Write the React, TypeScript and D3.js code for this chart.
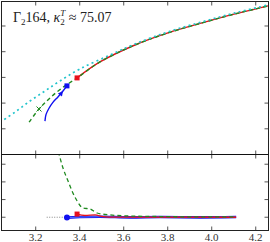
import React from 'react';
import * as d3 from 'd3';

// x ticks shared by both panels
const xTicks = [3.2, 3.4, 3.6, 3.8, 4.0, 4.2];
const xTickLabels = ['3.2', '3.4', '3.6', '3.8', '4.0', '4.2'];
const topTicks = [1, 2, 3, 4, 5];
const lowTicks = [0, 1, 2, 3];

// upper panel series
const redX = [3.388, 3.492, 3.651, 3.801, 3.956, 4.106, 4.256, 4.30];
const redY = [2.98, 3.60, 4.26, 4.73, 5.12, 5.47, 5.78, 5.88];
const greenX = [3.170, 3.215, 3.265, 3.320, 3.388, 3.492, 3.651, 3.801, 3.956, 4.106, 4.256, 4.30];
const greenY = [1.26, 1.77, 2.20, 2.59, 2.98, 3.60, 4.26, 4.73, 5.12, 5.47, 5.78, 5.88];
const cyanX = [3.038, 3.106, 3.174, 3.242, 3.310, 3.401, 3.538, 3.651, 3.801, 3.956, 4.106, 4.256, 4.30];
const cyanY = [1.25, 1.65, 2.08, 2.47, 2.86, 3.33, 3.87, 4.30, 4.77, 5.16, 5.51, 5.82, 5.93];
const blueX = [3.242, 3.247, 3.261, 3.279, 3.301, 3.324, 3.342];
const blueY = [1.30, 1.56, 1.81, 2.04, 2.24, 2.47, 2.67];
const crossX = 3.215;
const crossY = 1.77;

// lower panel series
const lowGreenX = [3.295, 3.301, 3.324, 3.347, 3.365, 3.388, 3.415, 3.447, 3.479, 3.538, 3.629, 3.765, 3.947, 4.111];
const lowGreenY = [4.1, 3.81, 2.79, 2.05, 1.49, 0.92, 0.52, 0.47, 0.24, 0.13, 0.07, 0.04, 0.02, 0.02];
const lowBlueX = [3.342, 3.401, 3.492, 3.629, 3.765, 3.947, 4.111];
const lowBlueY = [-0.02, 0.01, 0.03, -0.01, 0.01, -0.01, 0.01];
const lowRedX = [3.388, 3.424, 3.470, 3.506, 3.561, 4.111];
const lowRedY = [0.18, 0.10, 0.13, 0.04, 0.01, 0.0];
const refLineX = [3.25, 4.111];

const L = 1.5, R = 268.5, T = 1.5, M = 154.5, B = 230.5;

const x = d3.scaleLinear().domain([3.0445, 4.258]).range([L, R]);
const yTop = d3.scaleLinear().domain([0, 5.953]).range([M, T]);
const yLow = d3.scaleLinear().domain([-0.75, 3.55]).range([B, M]);

const zip = (xs: number[], ys: number[]) => xs.map((v, i) => [v, ys[i]] as [number, number]);

export default function App() {
  const lineTop = d3.line<[number, number]>().x(d => x(d[0])).y(d => yTop(d[1])).curve(d3.curveCatmullRom);
  const lineLow = d3.line<[number, number]>().x(d => x(d[0])).y(d => yLow(d[1])).curve(d3.curveMonotoneX);

  const blue = zip(blueX, blueY);
  const bEnd = blue[blue.length - 1];
  const redStart = [redX[0], redY[0]];

  // arrow head on the blue branch
  const ax = x(blueX[5]), ay = yTop(blueY[5]);
  const ang = Math.atan2(yTop(blueY[6]) - ay, x(blueX[6]) - ax);
  const arrowPts = [[0, 0], [-5, -2.6], [-5, 2.6]]
    .map(([px, py]) => [ax + px * Math.cos(ang) - py * Math.sin(ang), ay + px * Math.sin(ang) + py * Math.cos(ang)].join(','))
    .join(' ');

  const cx = x(crossX), cy = yTop(crossY);
  const tick = '#555';
  const serif = "'Liberation Serif', 'DejaVu Serif', serif";

  return (
    <svg width={270} height={242} style={{ position: 'absolute', left: 0, top: 0, background: '#fff' }}>
      <defs>
        <clipPath id="ctop"><rect x={L} y={T} width={R - L} height={M - T} /></clipPath>
        <clipPath id="clow"><rect x={L} y={M} width={R - L} height={B - M} /></clipPath>
      </defs>

      <g clipPath="url(#ctop)">
        <path d={lineTop(zip(redX, redY)) || ''} fill="none" stroke="#e8101c" strokeWidth={1.4} />
        <path d={lineTop(zip(greenX, greenY)) || ''} fill="none" stroke="#1f8a1f" strokeWidth={1.4} strokeDasharray="4,3" />
        <path d={lineTop(zip(cyanX, cyanY)) || ''} fill="none" stroke="#22c4cc" strokeWidth={1.7} strokeDasharray="2,3.2" />
        <path d={lineTop(blue) || ''} fill="none" stroke="#1010f0" strokeWidth={1.4} />
        <polygon points={arrowPts} fill="#1010f0" />
        <path d={`M${cx - 2.5},${cy - 2.5}L${cx + 2.5},${cy + 2.5}M${cx - 2.5},${cy + 2.5}L${cx + 2.5},${cy - 2.5}`} stroke="#1f8a1f" strokeWidth={1} />
        <rect x={x(bEnd[0]) - 2.5} y={yTop(bEnd[1]) - 2.5} width={5} height={5} fill="#1010f0" />
        <rect x={x(redStart[0]) - 2.5} y={yTop(redStart[1]) - 2.5} width={5} height={5} fill="#e8101c" />
      </g>

      <g clipPath="url(#clow)">
        <line x1={x(refLineX[0])} x2={x(refLineX[1])} y1={yLow(0)} y2={yLow(0)} stroke="#666" strokeWidth={0.8} strokeDasharray="1,1.5" />
        <path d={lineLow(zip(lowBlueX, lowBlueY)) || ''} fill="none" stroke="#1010f0" strokeWidth={2.6} />
        <path d={lineLow(zip(lowBlueX, lowBlueY)) || ''} fill="none" stroke="#6a8cff" strokeWidth={0.8} />
        <path d={lineLow(zip(lowRedX, lowRedY)) || ''} fill="none" stroke="#e8101c" strokeWidth={1.3} />
        <path d={lineLow(zip(lowGreenX, lowGreenY)) || ''} fill="none" stroke="#1f8a1f" strokeWidth={1.3} strokeDasharray="4,3" />
        <circle cx={x(lowBlueX[0])} cy={yLow(lowBlueY[0])} r={3} fill="#1010f0" />
        <rect x={x(lowRedX[0]) - 2.5} y={yLow(lowRedY[0]) - 2.5} width={5} height={5} fill="#e8101c" />
      </g>

      {/* ticks */}
      {xTicks.map(t => (
        <g key={'xt' + t} stroke={tick} strokeWidth={1}>
          <line x1={x(t)} x2={x(t)} y1={T} y2={T + 4} />
          <line x1={x(t)} x2={x(t)} y1={M - 4} y2={M + 4} />
          <line x1={x(t)} x2={x(t)} y1={B} y2={B - 4} />
        </g>
      ))}
      {topTicks.map(t => (
        <g key={'yt' + t} stroke={tick} strokeWidth={1}>
          <line x1={L} x2={L + 4} y1={yTop(t)} y2={yTop(t)} />
          <line x1={R} x2={R - 4} y1={yTop(t)} y2={yTop(t)} />
        </g>
      ))}
      {lowTicks.map(t => (
        <g key={'yl' + t} stroke={tick} strokeWidth={1}>
          <line x1={L} x2={L + 4} y1={yLow(t)} y2={yLow(t)} />
          <line x1={R} x2={R - 4} y1={yLow(t)} y2={yLow(t)} />
        </g>
      ))}

      {/* frames */}
      <rect x={L} y={T} width={R - L} height={B - T} fill="none" stroke="#222" strokeWidth={1} />
      <line x1={L} x2={R} y1={M} y2={M} stroke="#111" strokeWidth={1.2} />

      {xTicks.map((t, i) => (
        <text key={'xl' + t} x={x(t)} y={241} textAnchor="middle" fontFamily={serif} fontSize={11} fill="#333">
          {xTickLabels[i]}
        </text>
      ))}

      <text x={13} y={22} fontFamily={serif} fontSize={14} fill="#222">
        Γ<tspan fontSize={9} dy={3}>2</tspan><tspan dy={-3}>164, </tspan>
        <tspan fontStyle="italic">κ</tspan>
        <tspan fontSize={9} dy={3}>2</tspan>
        <tspan fontSize={9} fontStyle="italic" dx={-4.5} dy={-9}>T</tspan>
        <tspan dy={6}> ≈ 75.07</tspan>
      </text>
    </svg>
  );
}
